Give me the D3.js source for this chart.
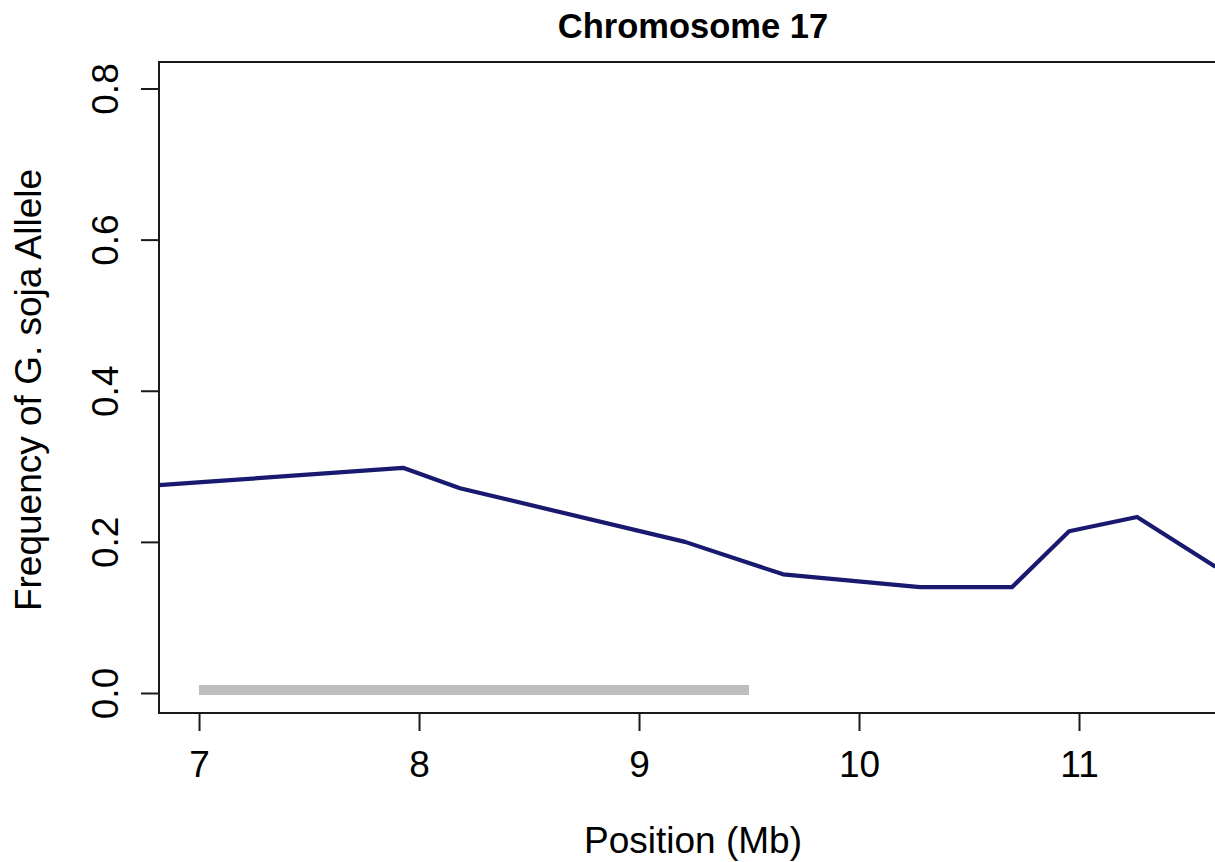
<!DOCTYPE html>
<html>
<head>
<meta charset="utf-8">
<script src="https://cdn.jsdelivr.net/npm/d3@7"></script>
<style>
  html, body { margin: 0; padding: 0; background: #fff; overflow: hidden; }
  svg { display: block; font-family: "Liberation Sans", Arial, Helvetica, sans-serif; }
</style>
</head>
<body>
<svg id="chart" width="1215" height="862"></svg>
<script>
// Allele frequency along chromosome 17 (position in Mb)
const positions   = [6.818, 7.06, 7.927, 8.186, 9.209, 9.655, 10.277, 10.695, 10.955, 11.264, 11.62];
const frequencies = [0.275, 0.280, 0.298, 0.271, 0.200, 0.157, 0.140, 0.140, 0.214, 0.233, 0.167];

// Introgressed interval shown as a grey bar along the bottom
const intervalStart = 7.0;
const intervalEnd   = 9.5;
const intervalLevel = 0.004;

const xTicks = [7, 8, 9, 10, 11];
const yTicks = [0.0, 0.2, 0.4, 0.6, 0.8];

const title  = "Chromosome 17";
const xTitle = "Position (Mb)";
const yTitle = "Frequency of G. soja Allele";

const svg = d3.select("#chart");

const plot = { left: 159, top: 62, bottom: 713, right: 1266 };

const x = d3.scaleLinear().domain([6.818, 11.85]).range([plot.left, plot.right]);
const y = d3.scaleLinear().domain([0, 0.8]).range([693, 88.5]);

svg.append("defs").append("clipPath").attr("id", "plotClip")
  .append("rect")
  .attr("x", plot.left).attr("y", plot.top)
  .attr("width", plot.right - plot.left).attr("height", plot.bottom - plot.top);

const body = svg.append("g").attr("clip-path", "url(#plotClip)");

// grey interval bar
body.append("line")
  .attr("x1", x(intervalStart)).attr("x2", x(intervalEnd))
  .attr("y1", y(intervalLevel)).attr("y2", y(intervalLevel))
  .attr("stroke", "#bebebe").attr("stroke-width", 10);

// frequency line
const line = d3.line().x((d, i) => x(positions[i])).y(d => y(d));
body.append("path")
  .datum(frequencies)
  .attr("d", line)
  .attr("fill", "none")
  .attr("stroke", "#191970")
  .attr("stroke-width", 4.2)
  .attr("stroke-linejoin", "round");

// plot frame
svg.append("rect")
  .attr("x", plot.left).attr("y", plot.top)
  .attr("width", plot.right - plot.left).attr("height", plot.bottom - plot.top)
  .attr("fill", "none").attr("stroke", "#1a1a1a").attr("stroke-width", 2);

// x axis
const xAxis = d3.axisBottom(x).tickValues(xTicks).tickFormat(d3.format("d"))
  .tickSize(18).tickPadding(20);
const gx = svg.append("g").attr("transform", `translate(0,${plot.bottom})`).call(xAxis);
gx.select(".domain").remove();
gx.selectAll(".tick line").attr("stroke", "#1a1a1a").attr("stroke-width", 2);
gx.selectAll(".tick text").attr("font-size", 37).attr("fill", "#000")
  .attr("font-family", "Liberation Sans, Arial, sans-serif");

// y axis with labels rotated parallel to the axis
const yAxis = d3.axisLeft(y).tickValues(yTicks).tickFormat(d3.format(".1f")).tickSize(18);
const gy = svg.append("g").attr("transform", `translate(${plot.left},0)`).call(yAxis);
gy.select(".domain").remove();
gy.selectAll(".tick line").attr("stroke", "#1a1a1a").attr("stroke-width", 2);
gy.selectAll(".tick text")
  .attr("font-size", 37).attr("fill", "#000")
  .attr("font-family", "Liberation Sans, Arial, sans-serif")
  .attr("x", null).attr("dy", null)
  .attr("text-anchor", "middle")
  .attr("transform", "translate(-41,0) rotate(-90)");

// titles
svg.append("text")
  .attr("x", 693).attr("y", 38)
  .attr("text-anchor", "middle")
  .attr("font-size", 34.5).attr("font-weight", "bold")
  .text(title);

svg.append("text")
  .attr("x", 693).attr("y", 853)
  .attr("text-anchor", "middle")
  .attr("font-size", 37)
  .text(xTitle);

svg.append("text")
  .attr("transform", "translate(41,390) rotate(-90)")
  .attr("text-anchor", "middle")
  .attr("font-size", 37)
  .text(yTitle);
</script>
</body>
</html>
